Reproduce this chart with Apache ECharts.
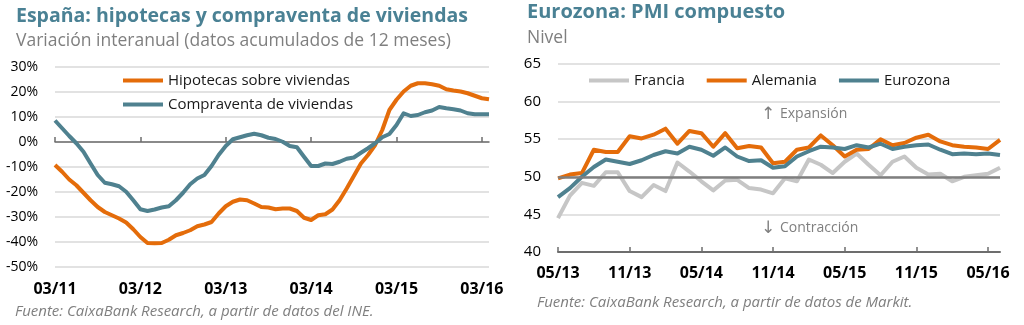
<!DOCTYPE html>
<html>
<head>
<meta charset="utf-8">
<script src="https://cdn.jsdelivr.net/npm/echarts@6/dist/echarts.min.js"></script>
<style>
html,body{margin:0;padding:0;background:#fff;}
#c{width:1024px;height:325px;}
</style>
</head>
<body>
<div id="c"></div>
<script>
// ---- Data ----
function monthLabels(startYear, startMonth, count) {
  const out = [];
  let y = startYear, m = startMonth;
  for (let k = 0; k < count; k++) {
    out.push(String(m).padStart(2, '0') + '/' + String(y % 100).padStart(2, '0'));
    m++; if (m > 12) { m = 1; y++; }
  }
  return out;
}
// Left chart: 03/11 .. 04/16
const spainMonths = monthLabels(2011, 3, 62);
const hipotecas = [
  -9.2, -11.9, -15.0, -17.3, -20.3, -23.3, -26.0, -28.0, -29.3, -30.6, -32.2, -34.9,
  -38.0, -40.4, -40.5, -40.4, -39.1, -37.3, -36.4, -35.3, -33.7, -33.0, -32.0, -28.6,
  -25.7, -23.9, -23.0, -23.3, -24.6, -26.0, -26.2, -26.9, -26.6, -26.6, -27.6, -30.3,
  -31.2, -29.3, -28.9, -27.0, -23.3, -18.6, -13.6, -8.6, -5.2, -1.2, 4.8, 12.8,
  16.9, 20.2, 22.5, 23.5, 23.5, 23.1, 22.5, 21.1, 20.6, 20.2, 19.5, 18.5,
  17.5, 17.1
];
const compraventa = [
  8.6, 5.5, 2.4, -0.5, -3.9, -8.6, -13.2, -16.3, -16.9, -17.7, -19.9, -23.3,
  -26.9, -27.6, -27.0, -26.2, -25.7, -23.3, -20.3, -16.9, -14.6, -13.2, -9.6, -5.2,
  -1.6, 1.1, 1.9, 2.7, 3.3, 2.7, 1.7, 1.2, 0.1, -1.6, -2.1, -5.9,
  -9.6, -9.6, -8.6, -8.8, -7.9, -6.7, -6.2, -4.3, -2.5, -0.5, 1.9, 3.2,
  6.8, 11.5, 10.4, 10.8, 11.9, 12.6, 14.0, 13.5, 13.1, 12.6, 11.5, 11.1,
  11.1, 11.1
];
const spainYTicks = [-50, -40, -30, -20, -10, 0, 10, 20, 30];

// Right chart: 05/13 .. 06/16
const pmiMonths = monthLabels(2013, 5, 38);
const francia = [
  44.5, 47.5, 49.2, 48.8, 50.6, 50.6, 48.1, 47.3, 48.9, 48.1, 51.9, 50.7,
  49.4, 48.2, 49.5, 49.6, 48.5, 48.3, 47.8, 49.8, 49.4, 52.3, 51.6, 50.5,
  52.0, 53.1, 51.6, 50.2, 52.0, 52.7, 51.2, 50.3, 50.4, 49.4, 50.0, 50.2,
  50.4, 51.2
];
const alemania = [
  49.8, 50.3, 50.5, 53.6, 53.3, 53.3, 55.4, 55.1, 55.6, 56.4, 54.4, 56.1,
  55.8, 54.0, 55.8, 53.8, 54.1, 53.9, 51.8, 52.0, 53.6, 53.9, 55.5, 54.2,
  52.7, 53.6, 53.7, 55.0, 54.2, 54.5, 55.2, 55.6, 54.7, 54.2, 54.0, 53.9,
  53.7, 54.9
];
const eurozona = [
  47.3, 48.5, 50.0, 51.3, 52.3, 52.0, 51.7, 52.2, 52.9, 53.4, 53.1, 54.0,
  53.6, 52.8, 53.9, 52.7, 52.1, 52.2, 51.2, 51.4, 52.7, 53.4, 54.0, 53.9,
  53.7, 54.2, 53.9, 54.4, 53.7, 54.0, 54.2, 54.3, 53.6, 53.0, 53.1, 53.0,
  53.1, 52.9
];
const pmiYTicks = [40, 45, 50, 55, 60, 65];
const pmiThreshold = 50;

// ---- Styles ----
const ORANGE = '#e46c0a';
const TEAL = '#4f818f';
const LGRAY = '#c6c6c6';
const TITLE = '#4a8194';
const SUB = '#7f7f7f';
const GRID = '#d9d9d9';
const AXIS = '#6d6d6d';
const FONT = '"Open Sans", "Liberation Sans", sans-serif';

const chart = echarts.init(document.getElementById('c'), null, {renderer: 'canvas'});

function lineSeries(name, data, color, xi, yi) {
  return {
    name: name, type: 'line', data: data,
    xAxisIndex: xi, yAxisIndex: yi,
    symbol: 'none', smooth: false,
    lineStyle: {color: color, width: 4, join: 'round'},
    itemStyle: {color: color},
    animation: false
  };
}

const option = {
  animation: false,
  textStyle: {fontFamily: FONT},
  title: [
    {text: 'España: hipotecas y compraventa de viviendas', left: 16, top: 6, padding: 0,
     textStyle: {fontFamily: FONT, fontSize: 19.5, fontWeight: 'bold', color: TITLE}},
    {text: 'Variación interanual (datos acumulados de 12 meses)', left: 16, top: 32, padding: 0,
     textStyle: {fontFamily: FONT, fontSize: 17.5, fontWeight: 'normal', color: SUB}},
    {text: 'Eurozona: PMI compuesto', left: 527, top: 2, padding: 0,
     textStyle: {fontFamily: FONT, fontSize: 20, fontWeight: 'bold', color: TITLE}},
    {text: 'Nivel', left: 527, top: 29, padding: 0,
     textStyle: {fontFamily: FONT, fontSize: 17.5, fontWeight: 'normal', color: SUB}},
    {text: 'Fuente: CaixaBank Research, a partir de datos del INE.', left: 15, top: 304, padding: 0,
     textStyle: {fontFamily: FONT, fontSize: 15, fontStyle: 'italic', fontWeight: 'normal', color: SUB}},
    {text: 'Fuente: CaixaBank Research, a partir de datos de Markit.', left: 537, top: 295, padding: 0,
     textStyle: {fontFamily: FONT, fontSize: 15, fontStyle: 'italic', fontWeight: 'normal', color: SUB}}
  ],
  legend: [
    {data: ['Hipotecas sobre viviendas', 'Compraventa de viviendas'],
     orient: 'vertical', left: 123, top: 73, padding: 0,
     icon: 'rect', itemWidth: 40, itemHeight: 4, itemGap: 9,
     textStyle: {fontFamily: FONT, fontSize: 15, color: '#1a1a1a'}},
    {data: ['Francia', 'Alemania', 'Eurozona'],
     orient: 'horizontal', left: 589, top: 73, padding: 0,
     icon: 'rect', itemWidth: 40, itemHeight: 4, itemGap: 22,
     textStyle: {fontFamily: FONT, fontSize: 15, color: '#1a1a1a'}}
  ],
  grid: [
    {left: 55, right: 535, top: 67, bottom: 58},
    {left: 558, right: 24, top: 64, bottom: 73}
  ],
  xAxis: [
    {type: 'category', gridIndex: 0, data: spainMonths, boundaryGap: false, position: 'bottom',
     axisLine: {show: false, onZero: false}, axisTick: {show: false}, splitLine: {show: false},
     axisLabel: {interval: 11, margin: 14, fontFamily: FONT, fontSize: 16, fontWeight: 'bold', color: '#000'}},
    {type: 'category', gridIndex: 0, data: spainMonths, boundaryGap: false, position: 'bottom',
     axisLine: {show: true, onZero: true, lineStyle: {color: AXIS, width: 1.5}},
     axisTick: {show: true, inside: true, interval: 11, length: 5, lineStyle: {color: AXIS, width: 1.5}},
     axisLabel: {show: false}, splitLine: {show: false}},
    {type: 'category', gridIndex: 1, data: pmiMonths, boundaryGap: false, position: 'bottom',
     axisLine: {show: true, onZero: false, lineStyle: {color: AXIS, width: 2}},
     axisTick: {show: true, inside: true, interval: 5, length: 5, lineStyle: {color: AXIS, width: 1.5}},
     axisLabel: {interval: 5, margin: 13, fontFamily: FONT, fontSize: 16, fontWeight: 'bold', color: '#000'},
     splitLine: {show: false}}
  ],
  yAxis: [
    {type: 'value', gridIndex: 0, min: spainYTicks[0], max: spainYTicks[spainYTicks.length - 1], interval: 10,
     axisLine: {show: false}, axisTick: {show: false},
     axisLabel: {formatter: '{value}%', margin: 17, fontFamily: FONT, fontSize: 14, color: '#000'},
     splitLine: {show: true, lineStyle: {color: GRID, width: 1.5}}},
    {type: 'value', gridIndex: 1, min: pmiYTicks[0], max: pmiYTicks[pmiYTicks.length - 1], interval: 5,
     axisLine: {show: false}, axisTick: {show: false},
     axisLabel: {margin: 17, fontFamily: FONT, fontSize: 15, color: '#000'},
     splitLine: {show: true, lineStyle: {color: GRID, width: 1.5}}}
  ],
  graphic: [
    {type: 'text', left: 761, top: 106, silent: true,
     style: {text: '↑', fill: SUB, font: '17px "DejaVu Sans", sans-serif'}},
    {type: 'text', left: 780, top: 107, silent: true,
     style: {text: 'Expansión', fill: SUB, font: '14px ' + FONT}},
    {type: 'text', left: 761, top: 220, silent: true,
     style: {text: '↓', fill: SUB, font: '17px "DejaVu Sans", sans-serif'}},
    {type: 'text', left: 780, top: 221, silent: true,
     style: {text: 'Contracción', fill: SUB, font: '14px ' + FONT}}
  ],
  series: [
    lineSeries('Hipotecas sobre viviendas', hipotecas, ORANGE, 0, 0),
    lineSeries('Compraventa de viviendas', compraventa, TEAL, 0, 0),
    Object.assign(lineSeries('Francia', francia, LGRAY, 2, 1), {
      markLine: {silent: true, symbol: 'none', animation: false,
        label: {show: false},
        lineStyle: {color: '#7f7f7f', width: 2.5, type: 'solid'},
        emphasis: {disabled: true},
        data: [{yAxis: pmiThreshold}]}
    }),
    lineSeries('Alemania', alemania, ORANGE, 2, 1),
    lineSeries('Eurozona', eurozona, TEAL, 2, 1)
  ]
};
chart.setOption(option);
</script>
</body>
</html>
